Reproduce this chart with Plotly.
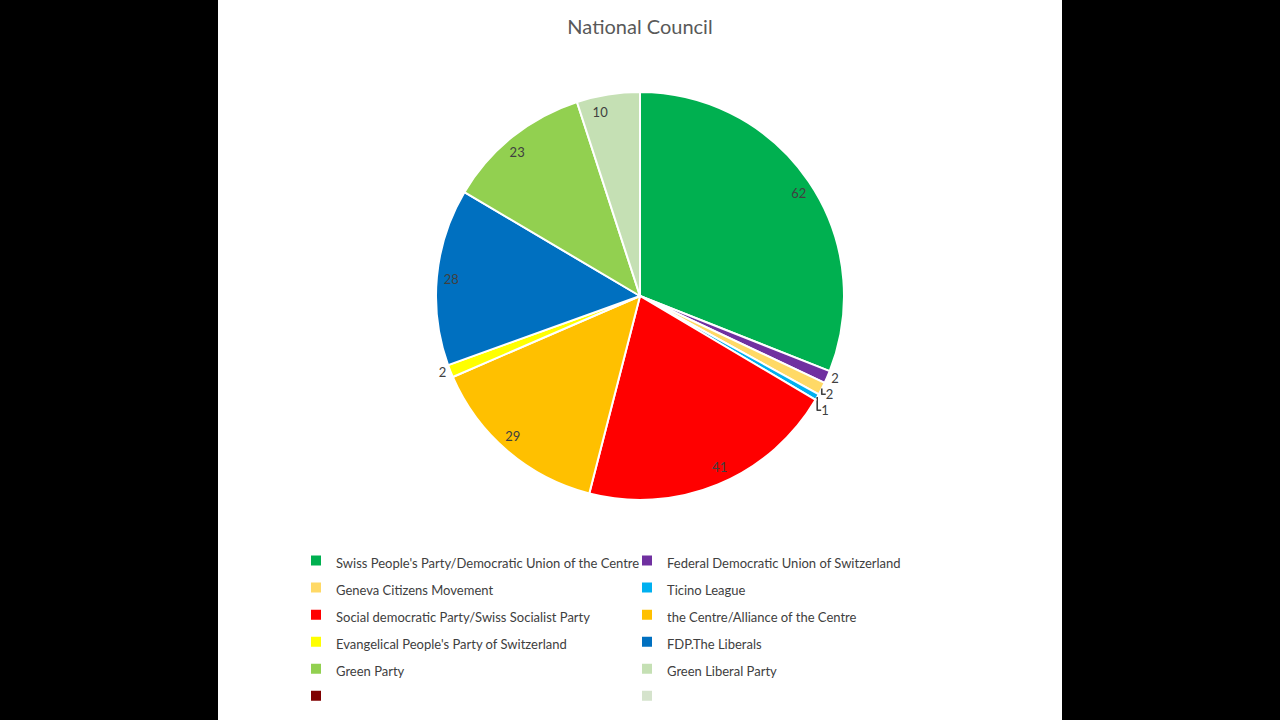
import plotly.graph_objects as go

# National Council seats
parties = [
    "Swiss People's Party/Democratic Union of the Centre",
    "Federal Democratic Union of Switzerland",
    "Geneva Citizens Movement",
    "Ticino League",
    "Social democratic Party/Swiss Socialist Party",
    "the Centre/Alliance of the Centre",
    "Evangelical People's Party of Switzerland",
    "FDP.The Liberals",
    "Green Party",
    "Green Liberal Party",
    " ",
    "  ",
]
seats = [62, 2, 2, 1, 41, 29, 2, 28, 23, 10, 0, 0]
colors = [
    "#00B050", "#7030A0", "#FFD966", "#00B0F0", "#FF0000", "#FFC000",
    "#FFFF00", "#0070C0", "#92D050", "#C5E0B4", "#7F0000", "#D5E3CC",
]

FONT = "Lato"
TXT = "#404040"

# small slices get their labels outside, big ones at the inside end
small = [0 < v <= 2 for v in seats]
legend_labels = [f"<span style='font-size:13px'>{p}</span>" for p in parties]

# Panel is 844px wide, centred; plot area == white panel
W, H = 1280, 720
L = R = 218
gw = W - L - R
cx, cy, rad, rad_in = 640, 296, 204, 178


def dom(r):
    return dict(
        x=[(cx - L - r) / gw, (cx - L + r) / gw],
        y=[(H - cy - r) / H, (H - cy + r) / H],
    )


fig = go.Figure()

fig.add_trace(go.Pie(
    labels=legend_labels,
    values=seats,
    sort=False,
    direction="clockwise",
    rotation=0,
    marker=dict(colors=colors, line=dict(color="white", width=2)),
    text=[str(v) if s else "" for v, s in zip(seats, small)],
    textinfo="text",
    textposition=["outside" if s else "none" for s in small],
    outsidetextfont=dict(family=FONT, size=13, color=TXT),
    domain=dom(rad),
    hoverinfo="label+value",
))

# transparent copy, smaller, so its outside labels sit at the inside end
fig.add_trace(go.Pie(
    labels=legend_labels,
    values=seats,
    sort=False,
    direction="clockwise",
    rotation=0,
    marker=dict(colors=["rgba(0,0,0,0)"] * len(seats), line=dict(width=0)),
    text=[str(v) if (v > 2) else "" for v in seats],
    textinfo="text",
    textposition="outside",
    outsidetextfont=dict(family=FONT, size=13, color=TXT),
    domain=dom(rad_in),
    showlegend=False,
    hoverinfo="skip",
))

fig.add_shape(type="rect", xref="paper", yref="paper", x0=0, x1=1, y0=0, y1=1,
              fillcolor="white", line=dict(width=0), layer="below")

fig.update_layout(
    width=W, height=H,
    margin=dict(l=L, r=R, t=0, b=0, autoexpand=False),
    paper_bgcolor="black",
    plot_bgcolor="white",
    font=dict(family=FONT, color=TXT),
    title=dict(text="National Council", x=0.5, xanchor="center", y=1 - 27 / H,
               yanchor="middle", yref="container",
               font=dict(family=FONT, size=20, color="#595959")),
    legend=dict(
        orientation="h",
        x=(296 - L) / gw, xanchor="left",
        y=(H - 542) / H, yanchor="top",
        entrywidth=286,
        font=dict(family=FONT, size=18.5, color=TXT),
        bgcolor="rgba(0,0,0,0)",
        traceorder="normal",
    ),
)

fig.write_html(
    "out.html",
    config={"displayModeBar": False},
    post_script="document.body.style.margin='0';document.body.style.background='black';",
)
